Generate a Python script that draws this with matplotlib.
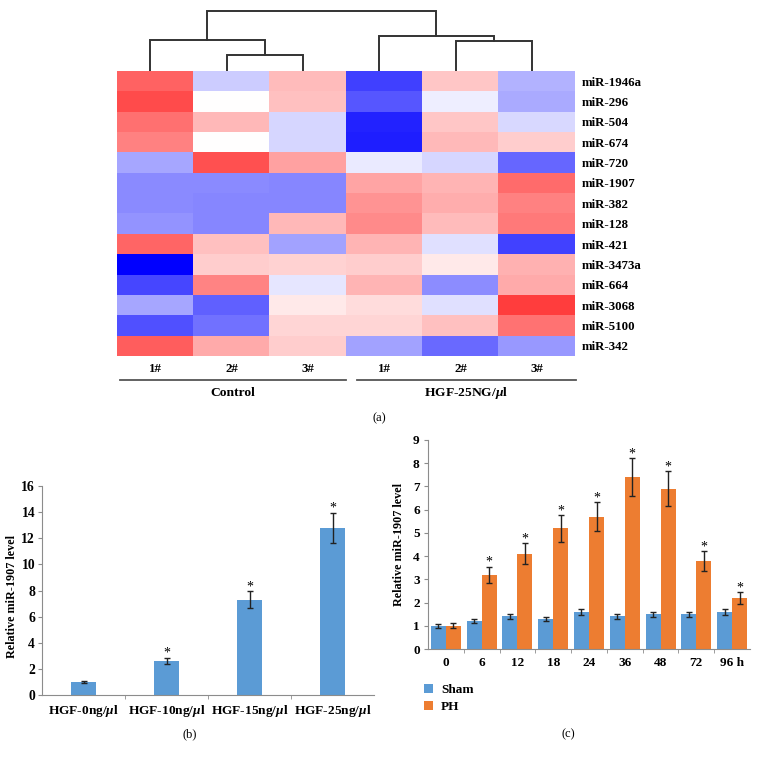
import numpy as np
import matplotlib
matplotlib.use("Agg")
import matplotlib.pyplot as plt
from matplotlib.colors import LinearSegmentedColormap

# ---------------- data ----------------
genes = ["miR-1946a", "miR-296", "miR-504", "miR-674", "miR-720", "miR-1907",
         "miR-382", "miR-128", "miR-421", "miR-3473a", "miR-664", "miR-3068",
         "miR-5100", "miR-342"]
sample_labels = ["1#", "2#", "3#", "1#", "2#", "3#"]
groups = ["Control", "HGF-25NG/$\\mu$l"]
heat = np.array([
    [0.70, -0.20, 0.30, -0.75, 0.25, -0.30],
    [0.80, 0.00, 0.28, -0.66, -0.07, -0.33],
    [0.64, 0.32, -0.16, -0.86, 0.25, -0.15],
    [0.56, 0.00, -0.16, -0.88, 0.31, 0.22],
    [-0.35, 0.78, 0.42, -0.08, -0.16, -0.60],
    [-0.46, -0.46, -0.47, 0.40, 0.33, 0.66],
    [-0.46, -0.47, -0.47, 0.48, 0.36, 0.56],
    [-0.42, -0.47, 0.32, 0.52, 0.30, 0.60],
    [0.68, 0.28, -0.36, 0.33, -0.12, -0.74],
    [-1.00, 0.22, 0.20, 0.22, 0.10, 0.35],
    [-0.72, 0.55, -0.10, 0.33, -0.45, 0.38],
    [-0.35, -0.62, 0.10, 0.15, -0.12, 0.86],
    [-0.68, -0.55, 0.18, 0.18, 0.28, 0.63],
    [0.72, 0.38, 0.22, -0.36, -0.58, -0.40],
])
# dendrogram merges: (node_a, node_b, height); new nodes numbered from 6
linkage = [(1, 2, 1.6), (0, 6, 3.07), (4, 5, 2.93), (3, 8, 3.4), (7, 9, 5.93)]

hgf_labels = ["HGF-0ng/$\\mu$l", "HGF-10ng/$\\mu$l", "HGF-15ng/$\\mu$l", "HGF-25ng/$\\mu$l"]
hgf_vals = [1.0, 2.6, 7.3, 12.8]
hgf_err = [0.1, 0.25, 0.65, 1.15]
hgf_star = [False, True, True, True]

time_labels = ["0", "6", "12", "18", "24", "36", "48", "72", "96 h"]
sham_vals = [1.0, 1.2, 1.4, 1.3, 1.6, 1.4, 1.5, 1.5, 1.6]
sham_err = [0.08, 0.09, 0.1, 0.09, 0.12, 0.1, 0.11, 0.11, 0.12]
ph_vals = [1.0, 3.2, 4.1, 5.2, 5.7, 7.4, 6.9, 3.8, 2.2]
ph_err = [0.1, 0.35, 0.46, 0.58, 0.63, 0.82, 0.76, 0.43, 0.25]
ph_star = [False, True, True, True, True, True, True, True, True]

# ---------------- style ----------------
plt.rcParams['font.family'] = ['Liberation Serif', 'DejaVu Serif']
plt.rcParams['mathtext.fontset'] = 'custom'
plt.rcParams['mathtext.it'] = 'Liberation Serif:italic:bold'
plt.rcParams['mathtext.rm'] = 'Liberation Serif:bold'

W, H = 758, 759
fig = plt.figure(figsize=(W / 100, H / 100), dpi=100)


def ax_px(l, t, r, b):
    return fig.add_axes([l / W, 1 - b / H, (r - l) / W, (b - t) / H])


def px_fig(x, y):
    return x / W, 1 - y / H

# ---------------- (a) heatmap ----------------
cmap = LinearSegmentedColormap.from_list("bwr2", ["#0000ff", "#ffffff", "#ff2020"])
axh = ax_px(117, 71, 575, 356)
axh.imshow(heat, cmap=cmap, vmin=-1, vmax=1, aspect="auto", interpolation="nearest",
           extent=(-0.5, 5.5, len(genes) - 0.5, -0.5))
axh.set_xlim(-0.5, 5.5)
axh.set_yticks(range(len(genes)))
axh.set_yticklabels(genes, fontsize=9.3, fontweight="bold")
axh.yaxis.tick_right()
axh.tick_params(axis="y", length=0, pad=5)
axh.set_xticks(range(6))
axh.set_xticklabels(sample_labels, fontsize=9.3, fontweight="bold")
axh.tick_params(axis="x", length=0, pad=5)
for s in axh.spines.values():
    s.set_visible(False)

# dendrogram
axd = ax_px(112, 8, 570, 71)
axd.set_xlim(-0.5, 5.5)
axd.set_ylim(0, 6.2)
axd.axis("off")
pos = {i: (float(i), 0.0) for i in range(6)}
nid = 6
for a, b, h in linkage:
    xa, ha = pos[a]
    xb, hb = pos[b]
    axd.plot([xa, xa, xb, xb], [ha, h, h, hb], color="#333333", lw=1.4,
             solid_joinstyle="miter")
    pos[nid] = ((xa + xb) / 2, h)
    nid += 1

# group lines and labels
for (x0, x1), g in zip([(120, 346), (357, 576)], groups):
    fa, fy = px_fig(x0, 380)
    fb, _ = px_fig(x1, 380)
    fig.add_artist(plt.Line2D([fa, fb], [fy, fy], color="#555555", lw=1.3))
    cx, cy = px_fig((x0 + x1) / 2, 393)
    fig.text(cx, cy, g, ha="center", va="center", fontsize=9.7, fontweight="bold")
fig.text(*px_fig(379, 418), "(a)", ha="center", va="center", fontsize=9)

# ---------------- (b) ----------------
blue = "#5b9bd5"
orange = "#ed7d31"
spine_c = "#8c8c8c"
axb = ax_px(42, 486, 374, 695)
xb = np.arange(len(hgf_vals))
axb.bar(xb, hgf_vals, width=0.31, color=blue, zorder=2)
axb.errorbar(xb, hgf_vals, yerr=hgf_err, fmt="none", ecolor="#222222", elinewidth=1,
             capsize=2, capthick=1, zorder=3)
for x, v, e, s in zip(xb, hgf_vals, hgf_err, hgf_star):
    if s:
        axb.text(x, v + e - 0.15, "*", ha="center", va="bottom", fontsize=10)
axb.set_xlim(-0.5, 3.5)
axb.set_ylim(0, 16)
axb.set_yticks(range(0, 17, 2))
axb.set_xticks(xb)
axb.set_xticklabels(hgf_labels, fontsize=9.6, fontweight="bold")
axb.set_xticks(np.arange(0.5, 3.5, 1), minor=True)
axb.tick_params(axis="x", which="major", length=0, pad=6)
axb.tick_params(axis="x", which="minor", length=3, color=spine_c, direction="out")
axb.tick_params(axis="y", length=3, color=spine_c, labelsize=9.8, pad=2)
for lab in axb.get_yticklabels():
    lab.set_fontweight("bold")
axb.set_ylabel("Relative miR-1907 level", fontsize=8.7, fontweight="bold")
axb.yaxis.set_label_coords(px_fig(12, 0)[0], 0.5, transform=fig.transFigure)
axb.yaxis.label.set_verticalalignment("center")
axb.yaxis.label.set_y(px_fig(0, 597)[1])
for k in ["top", "right"]:
    axb.spines[k].set_visible(False)
for k in ["left", "bottom"]:
    axb.spines[k].set_color(spine_c)
fig.text(*px_fig(190, 734), "(b)", ha="center", va="center", fontsize=9)

# ---------------- (c) ----------------
axc = ax_px(428, 440, 750, 649)
xc = np.arange(len(time_labels))
bw = 0.42
axc.bar(xc - bw / 2, sham_vals, width=bw, color=blue, zorder=2, label="Sham")
axc.bar(xc + bw / 2, ph_vals, width=bw, color=orange, zorder=2, label="PH")
axc.errorbar(xc - bw / 2, sham_vals, yerr=sham_err, fmt="none", ecolor="#222222",
             elinewidth=1, capsize=2, capthick=1, zorder=3)
axc.errorbar(xc + bw / 2, ph_vals, yerr=ph_err, fmt="none", ecolor="#222222",
             elinewidth=1, capsize=2, capthick=1, zorder=3)
for x, v, e, s in zip(xc, ph_vals, ph_err, ph_star):
    if s:
        axc.text(x + bw / 2, v + e - 0.1, "*", ha="center", va="bottom", fontsize=10)
axc.set_xlim(-0.5, len(time_labels) - 0.5)
axc.set_ylim(0, 9)
axc.set_yticks(range(0, 10))
axc.set_xticks(xc)
axc.set_xticklabels(time_labels, fontsize=9.5, fontweight="bold")
axc.set_xticks(np.arange(0.5, len(time_labels) - 0.5, 1), minor=True)
axc.tick_params(axis="x", which="major", length=0, pad=6)
axc.tick_params(axis="x", which="minor", length=3, color=spine_c, direction="out")
axc.tick_params(axis="y", length=3, color=spine_c, labelsize=9.5, pad=3)
for lab in axc.get_yticklabels():
    lab.set_fontweight("bold")
axc.set_ylabel("Relative miR-1907 level", fontsize=8.7, fontweight="bold", labelpad=6)
for k in ["top", "right"]:
    axc.spines[k].set_visible(False)
for k in ["left", "bottom"]:
    axc.spines[k].set_color(spine_c)
leg = axc.legend(loc="upper left", bbox_to_anchor=(px_fig(424, 684)[0], px_fig(424, 684)[1]),
                 bbox_transform=fig.transFigure, frameon=False, handlelength=0.7,
                 handleheight=0.7, handletextpad=0.6, labelspacing=0.35,
                 prop={"size": 9.5, "weight": "bold"}, borderaxespad=0, borderpad=0)
fig.text(*px_fig(568, 734), "(c)", ha="center", va="center", fontsize=9)

fig.savefig("out.png", dpi=100)
